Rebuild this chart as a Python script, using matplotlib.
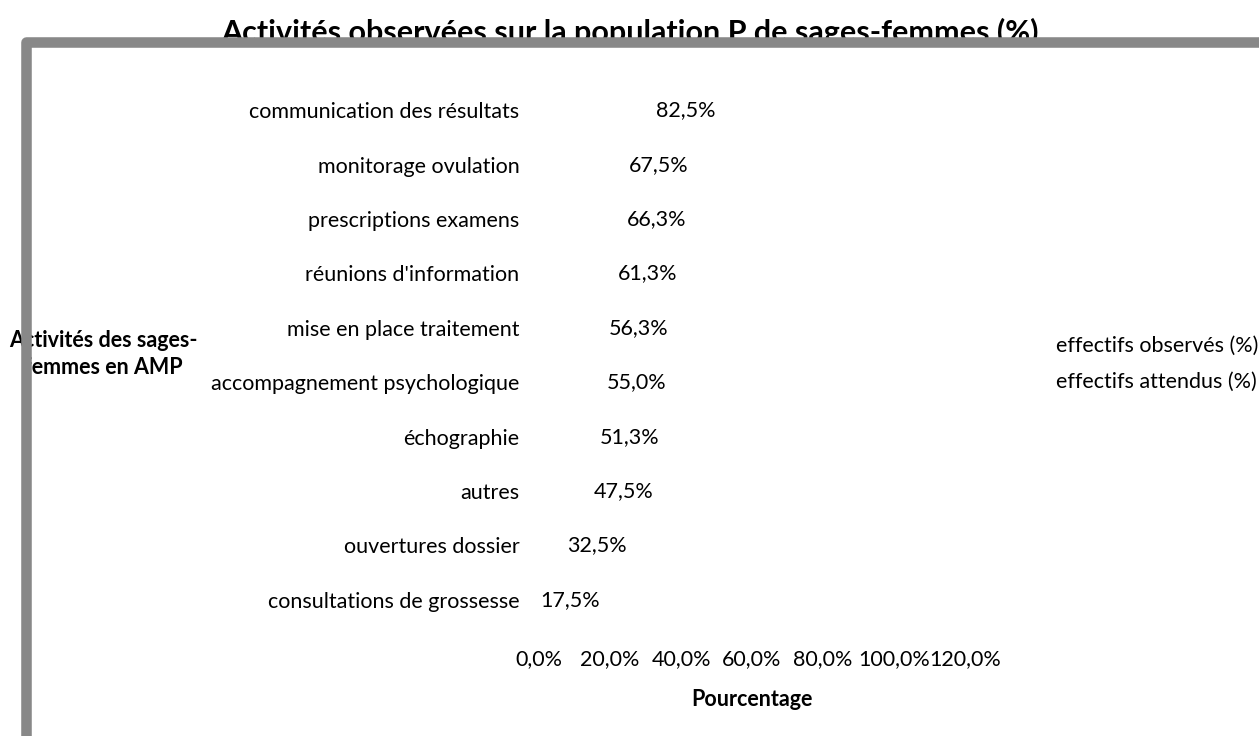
import matplotlib
matplotlib.use('Agg')
import matplotlib.pyplot as plt
import matplotlib.patches as patches
import numpy as np

plt.rcParams['font.family'] = ['Lato', 'DejaVu Sans']

# data, bottom to top as drawn
categories = ['consultations de grossesse', 'ouvertures dossier', 'autres',
              'échographie', 'accompagnement psychologique',
              'mise en place traitement', "réunions d'information",
              'prescriptions examens', 'monitorage ovulation',
              'communication des résultats']
observed = [17.5, 32.5, 47.5, 51.3, 55.0, 56.3, 61.3, 66.3, 67.5, 82.5]
x_ticks = [0, 20, 40, 60, 80, 100, 120]
series_names = ['effectifs observés (%)', 'effectifs attendus (%)']

FS = 15.5
W, H = 1259, 736
fig = plt.figure(figsize=(W / 100, H / 100), dpi=100)
ax = fig.add_axes([539 / W, (H - 627) / H, 426 / W, 544 / H])

y = np.arange(len(categories))
# bars are white (invisible) in the original, only labels remain
bars = ax.barh(y, observed, height=0.6, color='white', label=series_names[0])
ax.barh(y, [0] * len(categories), height=0.6, color='white',
        label=series_names[1])
ax.bar_label(bars, labels=[f'{v:.1f}%'.replace('.', ',') for v in observed],
             label_type='center', fontsize=FS)

ax.set_xlim(0, 120)
ax.set_ylim(-0.5, len(categories) - 0.5)
ax.set_xticks(x_ticks)
ax.set_xticklabels([f'{t:.1f}%'.replace('.', ',') for t in x_ticks])
ax.set_yticks(y)
ax.set_yticklabels(categories)
ax.tick_params(axis='both', length=0, labelsize=FS)
ax.tick_params(axis='x', pad=16)
ax.tick_params(axis='y', pad=14)
for s in ax.spines.values():
    s.set_visible(False)

ax.set_xlabel('Pourcentage', fontsize=FS, fontweight='bold', labelpad=14)
ax.set_ylabel('Activités des sages-\nfemmes en AMP', fontsize=FS,
              fontweight='bold', rotation=0, ha='center', va='center',
              linespacing=1.3)
ax.yaxis.set_label_coords((103 - 539) / 426, (627 - 354) / 544)

fig.text(630 / W, 1 - 42 / H,
         'Activités observées sur la population P de sages-femmes (%)',
         ha='center', va='baseline', fontsize=22, fontweight='bold')

leg = fig.legend(loc='upper left', bbox_to_anchor=(1056 / W, 1 - 336 / H),
                 frameon=False, fontsize=FS, handlelength=0,
                 handletextpad=0, borderpad=0, borderaxespad=0,
                 labelspacing=0.72)

# gray chart frame, runs off the right and bottom edges
frame = patches.Rectangle((25.5 / W, -0.2), 1.5, 1.2 - 42 / H,
                          transform=fig.transFigure, fill=False,
                          edgecolor='#888888', linewidth=7.6,
                          joinstyle='round', zorder=10)
fig.patches.append(frame)

fig.savefig('out.png', dpi=100)
